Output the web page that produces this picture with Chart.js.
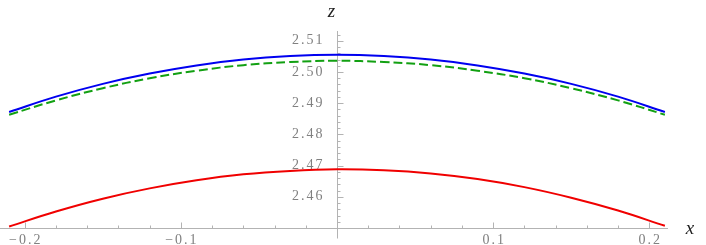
<!DOCTYPE html>
<html>
<head>
<meta charset="utf-8">
<script src="https://cdn.jsdelivr.net/npm/chart.js@4.4.1/dist/chart.umd.min.js"></script>
<style>
  html, body { margin: 0; padding: 0; background: #fff; }
  #wrap { width: 706px; height: 245px; position: relative; }
</style>
</head>
<body>
<div id="wrap"><canvas id="myChart"></canvas></div>
<script>
// x positions where the curves were read
var xs = [-0.21, -0.18, -0.15, -0.12, -0.09, -0.06, -0.03, 0, 0.03, 0.06, 0.09, 0.12, 0.15, 0.18, 0.21];

var blueZ  = [2.4872, 2.4921, 2.4962, 2.4995, 2.5021, 2.5040, 2.5051, 2.5055, 2.5051, 2.5040, 2.5021, 2.4995, 2.4962, 2.4921, 2.4872];
var greenZ = [2.4863, 2.4909, 2.4948, 2.4980, 2.5004, 2.5022, 2.5032, 2.5036, 2.5032, 2.5022, 2.5004, 2.4980, 2.4948, 2.4909, 2.4863];
var redZ   = [2.4505, 2.4553, 2.4594, 2.4627, 2.4653, 2.4672, 2.4683, 2.4688, 2.4685, 2.4675, 2.4657, 2.4631, 2.4597, 2.4556, 2.4507];

var xTicks = [-0.2, -0.1, 0.1, 0.2];
var xMinor = [-0.18, -0.16, -0.14, -0.12, -0.08, -0.06, -0.04, -0.02, 0.02, 0.04, 0.06, 0.08, 0.12, 0.14, 0.16, 0.18];
var zTicks = [2.46, 2.47, 2.48, 2.49, 2.50, 2.51];
var zMinor = [2.452, 2.454, 2.456, 2.458, 2.462, 2.464, 2.466, 2.468, 2.472, 2.474, 2.476, 2.478,
              2.482, 2.484, 2.486, 2.488, 2.492, 2.494, 2.496, 2.498, 2.502, 2.504, 2.506, 2.508, 2.512];

function pts(ys) {
  return xs.map(function (x, i) { return { x: x, y: ys[i] }; });
}

var axisColor = '#b3b3b3';
var labelColor = '#808080';

// Mathematica style axes: z axis through x=0, x axis at the bottom
var axesPlugin = {
  id: 'axesPlugin',
  beforeDatasetsDraw: function (chart) {
    var c = chart.ctx, sx = chart.scales.x, sy = chart.scales.y;
    var x0 = Math.round(sx.getPixelForValue(0)) + 0.5;
    var yb = Math.round(sy.getPixelForValue(2.45)) + 0.5;
    c.save();
    c.strokeStyle = axisColor;
    c.lineWidth = 1;
    c.beginPath();
    c.moveTo(0, yb); c.lineTo(sx.right, yb);
    c.moveTo(x0, sy.top - 2); c.lineTo(x0, yb + 10);
    xTicks.forEach(function (v) {
      var p = Math.round(sx.getPixelForValue(v)) + 0.5;
      c.moveTo(p, yb); c.lineTo(p, yb - 6);
    });
    xMinor.forEach(function (v) {
      var p = Math.round(sx.getPixelForValue(v)) + 0.5;
      c.moveTo(p, yb); c.lineTo(p, yb - 3);
    });
    zTicks.forEach(function (v) {
      var p = Math.round(sy.getPixelForValue(v)) + 0.5;
      c.moveTo(x0, p); c.lineTo(x0 + 6, p);
    });
    zMinor.forEach(function (v) {
      var p = Math.round(sy.getPixelForValue(v)) + 0.5;
      c.moveTo(x0, p); c.lineTo(x0 + 3, p);
    });
    c.stroke();

    c.fillStyle = labelColor;
    c.font = '14px "Liberation Serif", serif';
    c.letterSpacing = '2px';
    c.textAlign = 'center';
    c.textBaseline = 'middle';
    xTicks.forEach(function (v) {
      var t = (v < 0 ? '\u2212' : '') + Math.abs(v).toFixed(1);
      c.fillText(t, sx.getPixelForValue(v) + 1, yb + 12);
    });
    c.textAlign = 'right';
    zTicks.forEach(function (v) {
      c.fillText(v.toFixed(2), x0 - 13, sy.getPixelForValue(v));
    });

    c.letterSpacing = '0px';
    c.fillStyle = '#222';
    c.font = 'italic 19px "Liberation Serif", serif';
    c.textAlign = 'center';
    c.fillText('z', x0 - 6, 12);
    c.fillText('x', 690, yb);
    c.restore();
  }
};

var ctx = document.getElementById('myChart').getContext('2d');
var myChart = new Chart(ctx, {
  type: 'line',
  data: {
    datasets: [{
      data: pts(blueZ),
      borderColor: '#0000f0',
      borderWidth: 2,
      pointRadius: 0,
      tension: 0.4
    }, {
      data: pts(greenZ),
      borderColor: '#12a012',
      borderWidth: 2,
      borderDash: [9, 4],
      pointRadius: 0,
      tension: 0.4
    }, {
      data: pts(redZ),
      borderColor: '#f00000',
      borderWidth: 2,
      pointRadius: 0,
      tension: 0.4
    }]
  },
  options: {
    responsive: true,
    maintainAspectRatio: false,
    animation: false,
    layout: { padding: { left: 6, right: 38, top: 33, bottom: 17 } },
    plugins: { legend: { display: false }, tooltip: { enabled: false } },
    scales: {
      x: { type: 'linear', min: -0.212, max: 0.212, display: false },
      y: { type: 'linear', min: 2.45, max: 2.5125, display: false }
    }
  },
  plugins: [axesPlugin]
});
</script>
</body>
</html>
